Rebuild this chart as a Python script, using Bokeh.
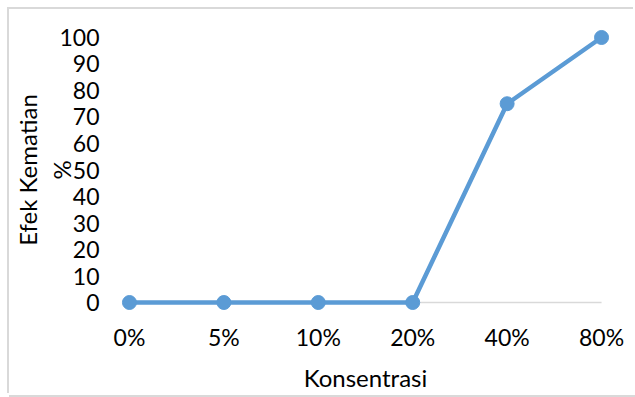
from bokeh.plotting import figure
from bokeh.models import FixedTicker, Range1d
from bokeh.embed import file_html
from bokeh.resources import INLINE

# Mortality effect (%) at each concentration
categories = ["0%", "5%", "10%", "20%", "40%", "80%"]
mortality = [0, 0, 0, 0, 75, 100]
y_ticks = [0, 10, 20, 30, 40, 50, 60, 70, 80, 90, 100]

x_pos = list(range(len(categories)))

FONT = "Lato"
TEXT = "#000000"
BLUE = "#5b9bd5"
GREY = "#d9d9d9"

p = figure(
    width=626, height=386,
    x_range=Range1d(-0.0949, len(categories) - 1 + 0.0949),
    y_range=Range1d(-3.396, 103.396),
    output_backend="svg", toolbar_location=None,
    min_border_left=109, min_border_right=25,
    min_border_top=19, min_border_bottom=84,
    styles={
        "margin-left": "9px",
        "margin-top": "9px",
        "box-shadow": f"-2px -2px 0 0 {GREY}, 0 2px 0 0 {GREY}",
    },
)
p.outline_line_color = None
p.grid.visible = False
p.background_fill_color = "white"
p.border_fill_color = "white"

# horizontal category axis line at zero
p.segment(x0=[x_pos[0]], y0=[0], x1=[x_pos[-1]], y1=[0],
          line_color=GREY, line_width=1.5)

p.line(x_pos, mortality, line_color=BLUE, line_width=4.5,
       line_join="round", line_cap="round")
p.scatter(x_pos, mortality, size=14, fill_color=BLUE, line_color=BLUE)

# x axis: concentration categories
xa = p.xaxis[0]
xa.ticker = FixedTicker(ticks=x_pos)
xa.major_label_overrides = {i: c for i, c in enumerate(categories)}
xa.axis_line_color = None
xa.major_tick_line_color = None
xa.minor_tick_line_color = None
xa.major_label_standoff = 5
xa.major_label_text_font = FONT
xa.major_label_text_font_size = "23px"
xa.major_label_text_color = TEXT
xa.axis_label = "Konsentrasi"
xa.axis_label_text_font = FONT
xa.axis_label_text_font_size = "24px"
xa.axis_label_text_font_style = "normal"
xa.axis_label_text_color = TEXT
xa.axis_label_standoff = 9

# y axis: mortality percentage
ya = p.yaxis[0]
ya.ticker = FixedTicker(ticks=y_ticks)
ya.axis_line_color = None
ya.major_tick_line_color = None
ya.minor_tick_line_color = None
ya.major_label_standoff = 15
ya.major_label_text_font = FONT
ya.major_label_text_font_size = "23px"
ya.major_label_text_color = TEXT
ya.axis_label = "Efek Kematian\n%"
ya.axis_label_text_font = FONT
ya.axis_label_text_font_size = "24px"
ya.axis_label_text_font_style = "normal"
ya.axis_label_text_color = TEXT
ya.axis_label_standoff = -20

open("out.html", "w").write(file_html(p, INLINE))
